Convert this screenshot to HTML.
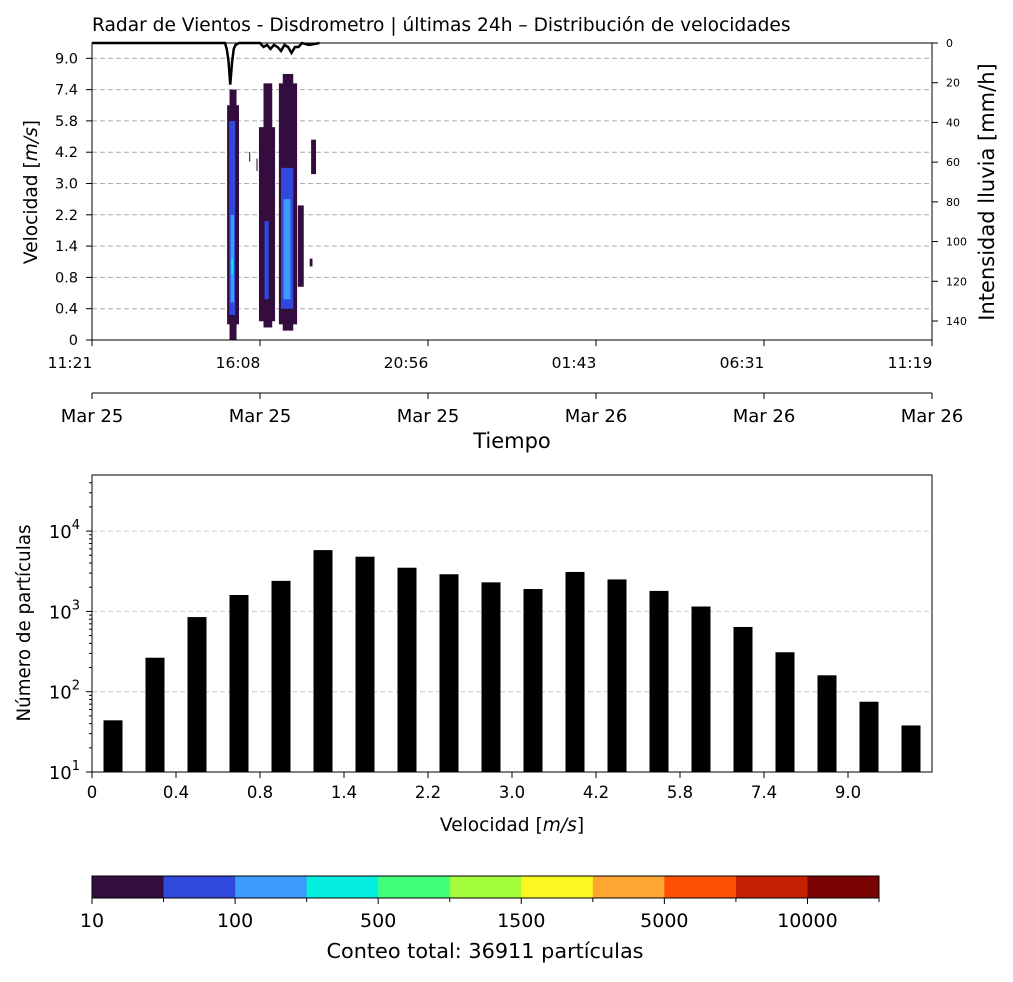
<!DOCTYPE html>
<html><head><meta charset="utf-8"><style>
body{margin:0;background:#fff;}
svg text{font-family:"DejaVu Sans","Liberation Sans",sans-serif;}
</style></head><body>
<svg id="fig" width="1013" height="977" xmlns="http://www.w3.org/2000/svg">
<rect width="1013" height="977" fill="#fff"/>
<text x="92" y="31" font-size="18.6">Radar de Vientos - Disdrometro | últimas 24h – Distribución de velocidades</text>
<g id="top"></g>
<g id="bot"></g>
<g id="cbar"></g>
</svg>
<script>
const NS="http://www.w3.org/2000/svg";
function mk(p,tag,at,txt){const e=document.createElementNS(NS,tag);for(const k in at)e.setAttribute(k,at[k]);if(txt!==undefined)e.textContent=txt;p.appendChild(e);return e;}

// ---------- data ----------
const velLabels=["0","0.4","0.8","1.4","2.2","3.0","4.2","5.8","7.4","9.0"];
const timeLabels=["11:21","16:08","20:56","01:43","06:31","11:19"];
const dateLabels=["Mar 25","Mar 25","Mar 25","Mar 26","Mar 26","Mar 26"];
const rainTicks=[0,20,40,60,80,100,120,140];
const levelColors=["#320d3e","#3048dc","#3c9cfb","#04eee0","#3ffe7a","#a4fd3b","#fbf721","#fea632","#fd5003","#c52001","#7a0403"];
const cbarLabels=["10","100","500","1500","5000","10000"];
// heatmap segments: time (h from 11:21), width (h), low bin, high bin, level
const segTime =[3.86,3.93,3.92,3.96,3.98, 4.77,4.90,4.93,5.34,5.45,5.40,5.47,5.88,6.26,6.22,4.49,4.70];
const segW    =[0.34,0.20,0.17,0.10,0.05, 0.46,0.25,0.12,0.52,0.30,0.35,0.20,0.17,0.14,0.08,0.03,0.03];
const segLow  =[0.5, 0.0, 0.8, 1.2, 2.1,  0.6, 0.4, 1.3, 0.5, 0.3, 1.0, 1.3, 1.7, 5.3, 2.35,5.7,5.4];
const segHigh =[7.5, 8.0, 7.0, 4.0, 2.6,  6.8, 8.2, 3.8, 8.2, 8.5, 5.5, 4.5, 4.3, 6.4, 2.6, 6.0,5.8];
const segLevel=[0,   0,   1,   2,   3,    0,   0,   1,   0,   0,   1,   2,   0,   0,   0,   0,  0];
// rain intensity line
const rainTime=[0,3.8,3.85,3.9,3.95,4.0,4.05,4.1,4.2,4.5,4.8,4.9,5.0,5.1,5.2,5.3,5.4,5.5,5.6,5.7,5.8,5.9,6.0,6.2,6.5];
const rainVal =[0,0,3,9,21,10,3,1,0,0,0,2,1,3,1,2,4,1,2,5,2,2,0,1,0];
// histogram
const histValues=[44,265,850,1600,2400,5800,4800,3500,2900,2300,1900,3100,2500,1800,1150,640,310,160,75,38];

// ---------- top heatmap ----------
const T=document.getElementById('top');
const tx=h=>92+h/24*840, ty=b=>340-b*31.3, ry=v=>43+v/140*278;
velLabels.forEach((l,i)=>{
 const y=ty(i);
 if(i>0){const g=mk(T,'line',{x1:92,x2:932,y1:y,y2:y,stroke:'#aaa','stroke-dasharray':'5,3','stroke-width':1});
 }
 mk(T,'line',{x1:86,x2:92,y1:y,y2:y,stroke:'#000'});
 const t=mk(T,'text',{x:78,y:y+5,'font-size':14.5,'text-anchor':'end'},l);
 
});
segTime.forEach((t0,i)=>{
 const r=mk(T,'rect',{x:tx(t0),y:ty(segHigh[i]),width:segW[i]/24*840,height:(segHigh[i]-segLow[i])*31.3,fill:levelColors[segLevel[i]]});
 
});
let d='';rainTime.forEach((t,i)=>{d+=(d?'L':'M')+tx(t)+','+ry(rainVal[i]);});
const rl=mk(T,'path',{d:d,fill:'none',stroke:'#000','stroke-width':2.5});

mk(T,'rect',{x:92,y:43,width:840,height:297,fill:'none',stroke:'#000'});
rainTicks.forEach(v=>{const y=ry(v);mk(T,'line',{x1:932,x2:938,y1:y,y2:y,stroke:'#000'});
 const t=mk(T,'text',{x:946,y:y+4,'font-size':11,'text-anchor':'start'},v);
 });
timeLabels.forEach((l,i)=>{const x=92+i*168;mk(T,'line',{x1:x,x2:x,y1:340,y2:346,stroke:'#000'});
 const t=mk(T,'text',{x:x-22,y:368,'font-size':15.5,'text-anchor':'middle'},l);
 });
mk(T,'line',{x1:92,x2:932,y1:393,y2:393,stroke:'#000'});
dateLabels.forEach((l,i)=>{const x=92+i*168;mk(T,'line',{x1:x,x2:x,y1:393,y2:399,stroke:'#000'});
 const t=mk(T,'text',{x:x,y:422,'font-size':18,'text-anchor':'middle'},l);
 });
let e=mk(T,'text',{x:512,y:448,'font-size':21,'text-anchor':'middle'},'Tiempo');

e=mk(T,'text',{x:0,y:0,'font-size':18.6,'text-anchor':'middle',transform:'translate(37,192) rotate(-90)'});
e.innerHTML='Velocidad [<tspan font-style="italic">m/s</tspan>]';

e=mk(T,'text',{x:0,y:0,'font-size':21,'text-anchor':'middle',transform:'translate(994,192) rotate(-90)'},'Intensidad lluvia [mm/h]');


// ---------- histogram ----------
const B=document.getElementById('bot');
const hy=v=>772-(Math.log10(v)-1)*80.3;
[100,1000,10000].forEach(v=>{const g=mk(B,'line',{x1:92,x2:932,y1:hy(v),y2:hy(v),stroke:'#ccc','stroke-dasharray':'5,3'});
 });
for(let dec=1;dec<=4;dec++)for(let m=1;m<10;m++){const v=m*Math.pow(10,dec);const y=hy(v);if(y<475)continue;
 mk(B,'line',{x1:m==1?86:89,x2:92,y1:y,y2:y,stroke:'#000'});}
[1,2,3,4].forEach(p=>{const y=hy(Math.pow(10,p));
 const t=mk(B,'text',{x:80,y:y+7,'font-size':18,'text-anchor':'end'});t.innerHTML='10<tspan dy="-9" font-size="13">'+p+'</tspan>';
 });
histValues.forEach((v,i)=>{const x=113+42*i;
 const r=mk(B,'rect',{x:x-9.5,y:hy(v),width:19,height:772-hy(v),fill:'#000'});
 });
mk(B,'rect',{x:92,y:475,width:840,height:297,fill:'none',stroke:'#000'});
velLabels.forEach((l,i)=>{const x=92+84*i;mk(B,'line',{x1:x,x2:x,y1:772,y2:778,stroke:'#000'});
 const t=mk(B,'text',{x:x,y:798,'font-size':16.5,'text-anchor':'middle'},l);
 });
e=mk(B,'text',{x:512,y:831,'font-size':18.6,'text-anchor':'middle'});
e.innerHTML='Velocidad [<tspan font-style="italic">m/s</tspan>]';

e=mk(B,'text',{x:0,y:0,'font-size':18.3,'text-anchor':'middle',transform:'translate(30,623) rotate(-90)'},'Número de partículas');


// ---------- colorbar ----------
const C=document.getElementById('cbar');
const cw=(879-92)/levelColors.length;
levelColors.forEach((c,i)=>{const r=mk(C,'rect',{x:92+i*cw,y:876,width:cw+0.5,height:22,fill:c});
 });
mk(C,'rect',{x:92,y:876,width:787,height:22,fill:'none',stroke:'#000'});
for(let i=0;i<=levelColors.length;i++){const x=92+i*cw;mk(C,'line',{x1:x,x2:x,y1:898,y2:i%2==0?904:902,stroke:'#000'});}
cbarLabels.forEach((l,i)=>{const t=mk(C,'text',{x:92+2*i*cw,y:927,'font-size':19,'text-anchor':'middle'},l);
 });
e=mk(C,'text',{x:485,y:958,'font-size':20.8,'text-anchor':'middle'},'Conteo total: 36911 partículas');

</script>
</body></html>
